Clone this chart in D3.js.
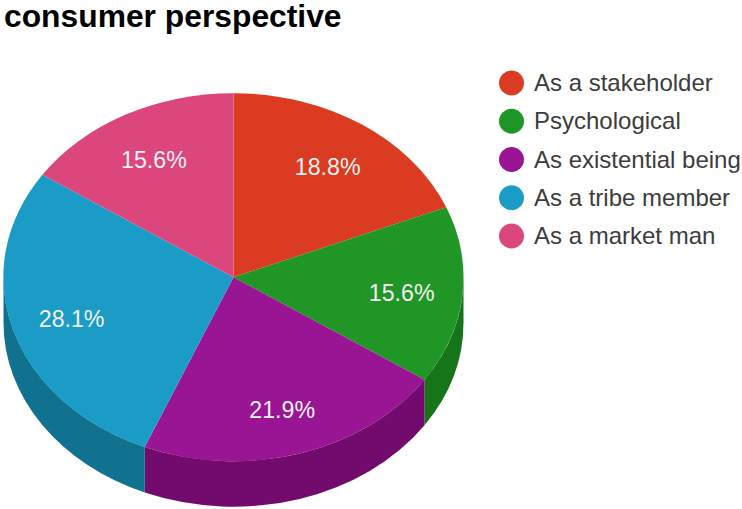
<!DOCTYPE html>
<html><head><meta charset="utf-8">
<script src="https://cdn.jsdelivr.net/npm/d3@7"></script>
<style>html,body{margin:0;padding:0;background:#fff}svg{display:block}text{font-family:"Liberation Sans",Arial,sans-serif}</style>
</head><body><svg id="c" width="742" height="509"></svg>
<script>
const categories = ["As a stakeholder","Psychological","As existential being","As a tribe member","As a market man"];
const values = [18.8,15.6,21.9,28.1,15.6];
const colors = ["#db3b20","#1f9626","#991593","#1b9cc6","#db467c"];
const sideColors = ["#9c2a16","#167518","#730b6e","#10728f","#9c3259"];
const title = "consumer perspective";

const cx=233.5, cy=277.2, rx=230, ry=184, depth=45.5;
const svg=d3.select("#c");
svg.append("text").attr("x",4).attr("y",27).attr("font-size",31.8).attr("font-weight",700).attr("fill","#000").text(title);

const pie=d3.pie().sort(null).value(d=>d)(values);
// Elliptical slices: draw a unit-circle arc, then flatten it with a scale transform
const arc=d3.arc().innerRadius(0).outerRadius(1);
const plot=svg.append("g");

// Wall of the tilted disc: only the portion of each slice on the near side is visible
function wallPath(a0,a1){
  const s=Math.max(a0,Math.PI/2), e=Math.min(a1,3*Math.PI/2);
  if(e<=s) return null;
  const px=a=>cx+rx*Math.sin(a), py=a=>cy-ry*Math.cos(a);
  return `M${px(s)},${py(s)}A${rx},${ry} 0 0 1 ${px(e)},${py(e)}L${px(e)},${py(e)+depth}A${rx},${ry} 0 0 0 ${px(s)},${py(s)+depth}Z`;
}
plot.selectAll("path.wall").data(pie).join("path").attr("class","wall")
  .attr("d",d=>wallPath(d.startAngle,d.endAngle)).attr("fill",(d,i)=>sideColors[i]);
plot.selectAll("path.top").data(pie).join("path").attr("class","top")
  .attr("transform",`translate(${cx},${cy}) scale(${rx},${ry})`)
  .attr("d",arc).attr("fill",(d,i)=>colors[i]);
plot.selectAll("text.pct").data(pie).join("text").attr("class","pct")
  .attr("x",d=>cx+rx*0.735*Math.sin((d.startAngle+d.endAngle)/2))
  .attr("y",d=>cy+2.5-ry*0.74*Math.cos((d.startAngle+d.endAngle)/2)+8)
  .attr("text-anchor","middle").attr("font-size",23.2).attr("fill","#f2f2f2")
  .text(d=>d.value.toFixed(1)+"%");

const legendY=d3.scalePoint().domain(categories).range([83,236]);
const lg=svg.append("g").selectAll("g").data(categories).join("g")
  .attr("transform",d=>`translate(0,${legendY(d)})`);
lg.append("circle").attr("cx",511.5).attr("r",12.5).attr("fill",(d,i)=>colors[i]);
lg.append("text").attr("x",534).attr("y",8).attr("font-size",24).attr("fill","#3c3c3c").text(d=>d);
</script></body></html>
